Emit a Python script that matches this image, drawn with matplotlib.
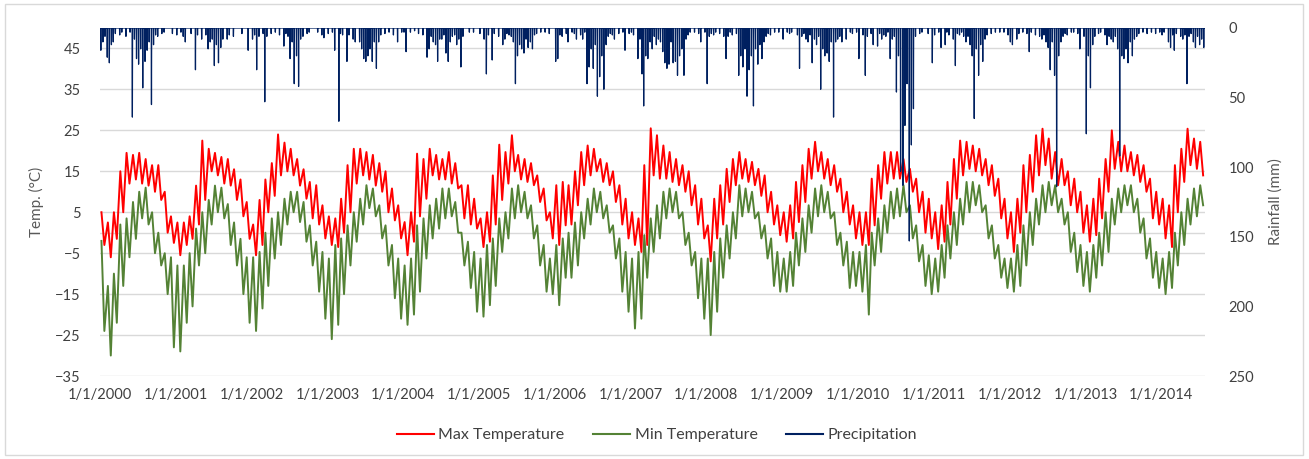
import numpy as np
import pandas as pd
import matplotlib

matplotlib.use("Agg")
import matplotlib.pyplot as plt  # noqa: E402
from matplotlib.lines import Line2D  # noqa: E402
from matplotlib.patches import Rectangle  # noqa: E402
from matplotlib.ticker import FuncFormatter  # noqa: E402

# Monthly envelope (upper / lower excursion), Jan 2000 .. Jul 2014
tmax_hi = [
    5, 2.5, 5, 15, 19.5, 19, 19.5, 18, 16.5, 16.5, 10, 4,
    2.5, 2.5, 4, 11.5, 22.5, 20.5, 19.5, 18.5, 18, 15.5, 13, 7.5,
    2, 8, 13, 17, 24, 22, 20.5, 18, 15.5, 12.4, 11.6, 6.7,
    4, 3.5, 8.3, 16.5, 20.5, 20.5, 19.7, 19, 17, 15, 10.8, 6.7,
    2.6, 5, 19.3, 18, 20.5, 19, 18, 19.7, 17, 11.6, 11.6, 8.3,
    3.5, 5, 14, 21.5, 19.7, 23.8, 19, 18, 17, 14, 10.8, 5,
    11.6, 12.4, 11.6, 15, 19.7, 21.3, 20.5, 18, 17, 15, 11.6, 8.3,
    5, 3.5, 16.5, 25.5, 23.8, 21.3, 19.7, 18, 16.5, 15, 11.6, 8.3,
    1.8, 8.3, 11.6, 15.6, 18, 19.7, 18, 17.3, 15.6, 14, 10, 6.7,
    5, 6.7, 12.4, 16.5, 20.5, 22.2, 19.7, 18, 16.5, 13.2, 10, 6.7,
    5, 5, 13.2, 16.5, 19.7, 19.7, 19.7, 18, 15.6, 13.2, 10, 8.3,
    5, 6.7, 12.4, 18, 22.5, 22.2, 21.3, 20.5, 18, 16.5, 13.2, 8.3,
    5, 8.3, 16.5, 19, 23.8, 25.4, 23, 19.7, 18, 15, 13.2, 10,
    6.7, 8.3, 13.2, 18, 25, 22.2, 21.3, 19.7, 19, 16.5, 13.2, 10,
    8.3, 6.7, 16.5, 20.5, 25.4, 23, 22.2,
]
tmax_lo = [
    -3, -6, -1.5, 5, 12, 13, 12, 11.5, 10, 8, 0, -2.5,
    -5.5, -3, -1.5, 2, 8, 15, 14, 12, 11.5, 8, 4, -1.5,
    -5.5, -3, 5, 9, 14, 15, 14, 11.5, 8.3, 3.5, 2, -1.4,
    -3, -3.5, 0, 5, 12, 14, 13, 11.5, 10, 5, 3, -1.4,
    -5.5, -2.2, 4, 8.3, 14, 13, 13, 12, 10.8, 3.5, 2, 1,
    -3.5, -2.2, 2, 8, 12, 15, 13, 12.4, 11.6, 7.5, 3, -1.4,
    -3, 1.8, 2, 6.7, 11.6, 14, 15, 12.4, 11.6, 7.5, 2, -1.4,
    -3, -4.7, -3, 14, 13.2, 13.2, 12.4, 11.6, 10, 6.7, 2, -1.4,
    -7, -1.4, 2, 7.5, 11.6, 13.2, 12.4, 11.6, 9, 5, 2, -0.6,
    -2.2, -1.4, 2.6, 7.5, 13.2, 15, 13.2, 11.6, 10, 5, 2, -1.4,
    -3, -3, 1.8, 8.3, 12, 13.2, 13.2, 12.4, 10, 5, 0, -1.4,
    -4, -2.2, 2, 8.3, 14, 15.6, 15, 14, 11.6, 9, 3.5, -1.4,
    -4.7, 0, 5, 10, 14, 16.5, 13.2, 11.6, 11.6, 6.7, 5, 0,
    -2.2, -0.6, 3.5, 10, 15.6, 15, 15, 14, 12.4, 10, 3.5, 2,
    -1.4, -3.5, 5, 12.4, 16.5, 15.6, 14,
]
tmin_hi = [
    -2, -13, -10, 2, 3.5, 7.5, 10, 11, 5, 0, -5, -6,
    -8, -8, -5, 1, 5, 8, 11.5, 11, 7, 2.5, -1.5, -6,
    -6, -4.7, 0, 3.5, 5, 8.3, 10, 10, 7.5, 1.8, -2.2, -4.7,
    -6.3, -3, -1.4, 1.8, 5, 8.3, 11.6, 10.8, 6.7, 1.8, -3, -6.3,
    -8, -6.3, 1.8, 3.5, 6.7, 8.3, 10.8, 10.8, 7.5, 0, -2.2, -4.7,
    -6.3, -3, -1.4, 3.5, 5, 10.8, 11.6, 10, 6.7, 1.8, -3, -6.3,
    -3, -1.4, 0, 2.5, 5, 8.3, 10.8, 10, 6.7, 1.8, -1.4, -4.7,
    -6.3, -4.7, -0.6, 3.5, 6.7, 10, 10.8, 10, 5, 0, -4.7, -6.3,
    -6.3, -4.7, -1.4, 1.8, 5, 11.6, 10.8, 10, 5, 1.8, -1.4, -4.7,
    -6.3, -4.7, 0, 3.5, 6.7, 10.8, 11.6, 10, 5, 0, -2.2, -4.7,
    -4.7, -3, 0, 3.5, 6.7, 10, 10.8, 11.6, 6.7, 1.8, -3, -5.5,
    -6.3, -3, 1.8, 5, 8.3, 12.4, 12.4, 11.6, 6.7, 1.8, -3, -6.3,
    -6.3, -3, 1.8, 5, 8.3, 11.6, 12.4, 11.6, 8.3, 5, 0, -3,
    -4.7, -3, 0, 5, 8.3, 10.8, 11.6, 11.6, 8.3, 3.5, -1.4, -4.7,
    -6.3, -4.7, 0, 5, 8.3, 10.8, 11.6,
]
tmin_lo = [
    -24, -30, -22, -13, -6, -1.5, 3.5, 2, -5, -8, -15, -28,
    -29, -22, -18, -8, -5, 2, 5, 3.5, -3, -8, -15, -22,
    -24, -18.5, -13, -6.3, -3, 2, 5, 2.6, -2.2, -8, -14.4, -21,
    -26, -22.5, -15, -8, -2.2, 2, 6, 4, -1.4, -8, -16, -21,
    -22.5, -20, -14.4, -6.3, -1.4, 1, 3.5, 4, 0, -8, -13.5, -19.3,
    -20.5, -17.7, -13, -4.7, -1.4, 3.5, 5, 3.5, -1.4, -8, -14.4, -15,
    -17.7, -11, -11, -8, -1.4, 2, 5, 3.5, 0, -6.3, -14.4, -19.3,
    -23.4, -21, -11, -4.7, -1.4, 3.5, 5, 3.5, -3, -8, -16, -21,
    -25, -19.3, -11, -6.3, -1.4, 4, 5, 3.5, -1.4, -6.3, -13, -14.4,
    -14.4, -13, -8, -4.7, 0, 4, 5, 3.5, -3, -8, -13.5, -13,
    -14.4, -20, -8, -4.7, 0, 3.5, 4, 5, -1.4, -7, -13, -15,
    -14.4, -11, -6.3, -3, 2, 5, 6.7, 5, -1.4, -6.3, -11, -13.5,
    -14.4, -13, -8, -3, 2, 5, 6.7, 5, 2, -4.7, -9.6, -13,
    -14.4, -11, -8, -4.7, 2, 5, 6.7, 5, 0, -6.3, -11, -13.5,
    -15, -13.5, -8, -3, 2, 4, 6.7,
]

# Rain events (mm) per month, early / mid / late in the month
rain_early = [
    16, 21, 10, 5, 6, 64, 26, 24, 55, 6, 3, 0,
    5, 6, 0, 30, 8, 15, 27, 14, 8, 6, 0, 0,
    8, 6, 53, 4, 0, 13, 22, 20, 6, 3, 0, 5,
    4, 16, 4, 24, 8, 10, 24, 24, 10, 4, 0, 10,
    3, 3, 0, 5, 15, 12, 8, 24, 5, 28, 0, 3,
    4, 33, 23, 6, 8, 6, 20, 18, 10, 4, 0, 4,
    24, 6, 10, 4, 5, 40, 29, 35, 12, 5, 4, 16,
    3, 22, 56, 10, 12, 17, 26, 24, 15, 5, 3, 10,
    40, 5, 4, 22, 5, 34, 15, 20, 26, 10, 5, 0,
    8, 4, 0, 6, 10, 8, 44, 18, 64, 6, 8, 4,
    22, 34, 4, 13, 5, 22, 46, 113, 153, 6, 3, 4,
    5, 14, 3, 8, 5, 10, 20, 34, 8, 4, 0, 3,
    10, 8, 3, 17, 5, 8, 14, 34, 10, 5, 3, 15,
    76, 12, 4, 5, 8, 15, 22, 10, 6, 3, 0, 4,
    5, 10, 16, 6, 40, 10, 12,
]
rain_mid = [
    10, 25, 4, 3, 0, 8, 15, 16, 12, 0, 0, 4,
    0, 10, 4, 5, 0, 10, 12, 8, 5, 0, 4, 16,
    5, 0, 6, 0, 5, 4, 10, 42, 0, 0, 3, 7,
    0, 0, 5, 5, 10, 15, 20, 10, 5, 0, 5, 0,
    17, 0, 4, 0, 6, 24, 5, 10, 12, 6, 3, 0,
    0, 5, 4, 0, 4, 10, 12, 8, 15, 0, 3, 0,
    22, 0, 0, 8, 8, 28, 12, 20, 6, 8, 0, 0,
    5, 8, 20, 15, 8, 25, 10, 34, 34, 3, 0, 0,
    6, 3, 0, 6, 0, 20, 49, 56, 12, 6, 0, 3,
    0, 3, 5, 4, 5, 12, 15, 24, 10, 10, 0, 0,
    0, 6, 12, 4, 6, 8, 20, 70, 84, 0, 0, 0,
    0, 0, 5, 27, 3, 6, 65, 12, 5, 0, 3, 0,
    12, 4, 0, 3, 0, 5, 30, 114, 6, 0, 0, 0,
    20, 6, 3, 12, 10, 92, 15, 20, 4, 0, 3, 0,
    3, 14, 4, 8, 6, 14, 8,
]
rain_late = [
    6, 12, 0, 0, 3, 22, 43, 10, 5, 4, 0, 0,
    3, 0, 0, 0, 5, 8, 25, 0, 0, 0, 0, 0,
    30, 4, 0, 3, 0, 6, 40, 8, 4, 0, 0, 0,
    3, 67, 0, 0, 0, 22, 15, 29, 0, 3, 0, 3,
    0, 2, 0, 21, 10, 8, 18, 6, 8, 0, 0, 0,
    8, 0, 0, 12, 5, 40, 15, 14, 5, 3, 0, 0,
    5, 4, 3, 0, 3, 15, 49, 44, 4, 0, 3, 4,
    0, 33, 22, 6, 10, 29, 25, 20, 8, 0, 4, 3,
    4, 0, 6, 3, 4, 28, 30, 15, 22, 4, 3, 0,
    3, 0, 29, 8, 25, 6, 20, 10, 8, 0, 3, 3,
    5, 0, 0, 8, 3, 6, 103, 40, 58, 4, 0, 25,
    3, 12, 0, 4, 6, 12, 15, 24, 0, 3, 0, 5,
    0, 0, 4, 0, 6, 10, 10, 20, 4, 3, 4, 6,
    43, 0, 0, 6, 6, 20, 25, 8, 0, 4, 0, 3,
    0, 5, 0, 5, 4, 6, 14,
]

year_ticks = list(range(2000, 2015))

RED = "#FF0000"
GREEN = "#548235"
NAVY = "#002060"
GRID = "#D9D9D9"
TICK = "#404040"
LABEL = "#595959"

plt.rcParams["font.family"] = ["Lato", "DejaVu Sans"]

n = len(tmax_hi)
months = pd.date_range("2000-01-01", periods=n, freq="MS")

# two readings per month: the upper excursion then the lower one
dates = np.empty(2 * n, dtype="datetime64[ns]")
dates[0::2] = (months + pd.Timedelta(days=7)).values
dates[1::2] = (months + pd.Timedelta(days=21)).values
tmax = np.empty(2 * n)
tmax[0::2], tmax[1::2] = tmax_hi, tmax_lo
tmin = np.empty(2 * n)
tmin[0::2], tmin[1::2] = tmin_hi, tmin_lo

days = pd.date_range("2000-01-01", "2014-07-31", freq="D")
rain = pd.Series(0.0, index=days)
for offset, vals in ((4, rain_early), (14, rain_mid), (24, rain_late)):
    rain[months + pd.Timedelta(days=offset)] = vals

fig = plt.figure(figsize=(13.09, 4.59), dpi=100)
fig.patch.set_facecolor("white")
fig.patches.append(Rectangle((5 / 1309, 4 / 459), 1298 / 1309, 451 / 459,
                             transform=fig.transFigure, fill=False,
                             edgecolor=GRID, linewidth=1.0))

ax = fig.add_axes([100 / 1309, 1 - 376 / 459, 1105 / 1309, 348 / 459])
ax.set_ylim(-35, 50)
ax.set_yticks(np.arange(-35, 46, 10))
ax.set_xlim(days[0], days[-1])
ax.set_xticks([pd.Timestamp(f"{y}-01-01") for y in year_ticks])
ax.xaxis.set_major_formatter(FuncFormatter(
    lambda v, _: (lambda d: f"{d.month}/{d.day}/{d.year}")(matplotlib.dates.num2date(v))))
ax.grid(axis="y", color=GRID, linewidth=1.0)
ax.axhline(0, color=GRID, linewidth=1.0, zorder=0)
ax.set_axisbelow(True)
for side in ax.spines.values():
    side.set_visible(False)
ax.tick_params(axis="both", length=0, labelsize=10.5, labelcolor=TICK)
ax.tick_params(axis="y", pad=14)
ax.tick_params(axis="x", pad=9)

ax.plot(dates, tmax, color=RED, linewidth=1.4)
ax.plot(dates, tmin, color=GREEN, linewidth=1.4)
ax.set_ylabel("Temp. (°C)", fontsize=11, color=LABEL)
ax.yaxis.set_label_coords(-0.051, 0.5)

ax2 = ax.twinx()
ax2.plot(rain.index, rain.values, color=NAVY, linewidth=0.9)
ax2.set_ylim(250, 0)
ax2.set_yticks(np.arange(0, 251, 50))
for side in ax2.spines.values():
    side.set_visible(False)
ax2.tick_params(axis="y", length=0, labelsize=10.5, labelcolor=TICK, pad=17)
ax2.set_ylabel("Rainfall (mm)", fontsize=11, color=LABEL)
ax2.yaxis.set_label_coords(1.057, 0.5)

handles = [Line2D([], [], color=RED, linewidth=1.5),
           Line2D([], [], color=GREEN, linewidth=1.5),
           Line2D([], [], color=NAVY, linewidth=1.5)]
fig.legend(handles, ["Max Temperature", "Min Temperature", "Precipitation"],
           loc="center", bbox_to_anchor=(0.502, 1 - 435 / 459), ncol=3,
           frameon=False, fontsize=11.5, labelcolor=TICK,
           handlelength=2.3, handletextpad=0.3, columnspacing=1.8)

fig.savefig("out.png", dpi=100, facecolor=fig.get_facecolor())
